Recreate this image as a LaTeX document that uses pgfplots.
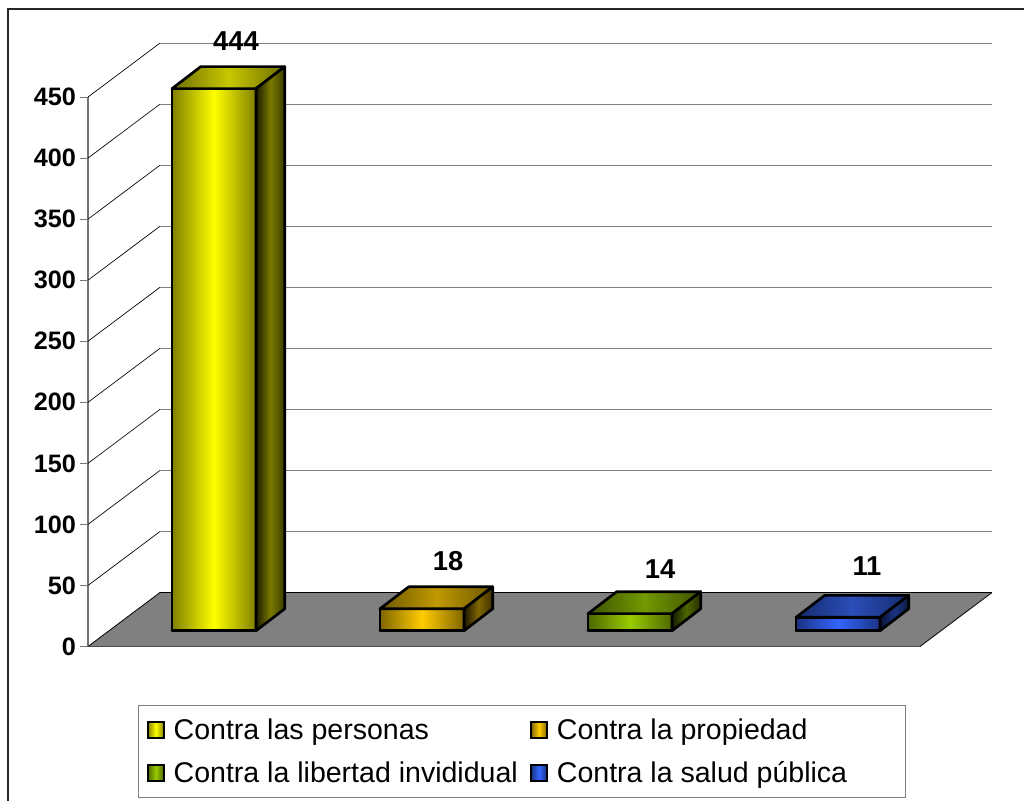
\documentclass[border=0pt]{standalone}
\usepackage{fontspec}
\setmainfont{Liberation Sans}
\usepackage{pgfplots}
\usepackage{pgfplotstable}
\pgfplotsset{compat=1.18}

% yellow
\definecolor{yF}{HTML}{FFFF00}\definecolor{yE}{HTML}{808000}
\definecolor{yT}{HTML}{C8C800}\definecolor{yTE}{HTML}{6E6E00}
\definecolor{yS}{HTML}{7A7A00}\definecolor{ySL}{HTML}{1C1C00}\definecolor{ySR}{HTML}{3C3C00}
% orange
\definecolor{oF}{HTML}{FFCC00}\definecolor{oE}{HTML}{806600}
\definecolor{oT}{HTML}{C09900}\definecolor{oTE}{HTML}{6E5800}
\definecolor{oS}{HTML}{806600}\definecolor{oSL}{HTML}{1C1600}\definecolor{oSR}{HTML}{3C3000}
% green
\definecolor{gF}{HTML}{99CC00}\definecolor{gE}{HTML}{4D6600}
\definecolor{gT}{HTML}{739900}\definecolor{gTE}{HTML}{3D5200}
\definecolor{gS}{HTML}{4D6600}\definecolor{gSL}{HTML}{141A00}\definecolor{gSR}{HTML}{242E00}
% blue
\definecolor{bF}{HTML}{3366FF}\definecolor{bE}{HTML}{1A3380}
\definecolor{bT}{HTML}{2B4DB8}\definecolor{bTE}{HTML}{152C6E}
\definecolor{bS}{HTML}{1A3380}\definecolor{bSL}{HTML}{0A1433}\definecolor{bSR}{HTML}{0D1A40}

% faces of a box: x from category, h = share of the value, d = depth in y units
\pgfplotstableread{
x h d
-0.096 0 0
0.3077 0 0
0.3077 1 0
-0.096 1 0
-0.096 0 0
}\cubefront
\pgfplotstableread{
x h d
-0.096 1 0
0.3077 1 0
0.4457 1 18
0.0420 1 18
-0.096 1 0
}\cubetop
\pgfplotstableread{
x h d
0.3077 0 0
0.4457 0 18
0.4457 1 18
0.3077 1 0
0.3077 0 0
}\cubeside
% wall grid lines, shifted to each tick
\pgfplotstableread{
x y
-0.5 0
-0.1538 44.2
}\walldiag
\pgfplotstableread{
x y
-0.1538 44.2
3.8462 44.2
}\wallback
\pgfplotstableread{
x y
-0.5 0
3.5 0
3.8462 44.2
-0.1538 44.2
-0.5 0
}\floorarea

\newcommand{\cube}[5]{%
  \addplot[forget plot,draw=black,line width=2pt,line join=round,line cap=round,
    left color=#3E,right color=#3E,middle color=#3F]
    table[x expr=#1+\thisrow{x},y expr=12.9+#2*\thisrow{h}+\thisrow{d}] {\cubefront};
  \addplot[forget plot,draw=black,line width=2pt,line join=round,line cap=round,
    left color=#3TE,right color=#3TE,middle color=#3T]
    table[x expr=#1+\thisrow{x},y expr=12.9+#2*\thisrow{h}+\thisrow{d}] {\cubetop};
  \addplot[forget plot,draw=black,line width=2pt,line join=round,line cap=round,
    left color=#3SL,right color=#3SR,middle color=#3S]
    table[x expr=#1+\thisrow{x},y expr=12.9+#2*\thisrow{h}+\thisrow{d}] {\cubeside};
  \node[inner sep=0pt,font=\bfseries\fontsize{20.5}{22}\selectfont,xshift=#4,yshift=#5]
    at (axis cs:#1+0.1058,12.9+#2) {#2};
}
\newcommand{\swatch}[1]{%
  \addlegendimage{legend image code/.code={%
    \draw[black,line width=1.6pt,left color=#1E,right color=#1E,middle color=#1F]
      (0pt,-6pt) rectangle (12.2pt,6pt);}}%
}

\begin{document}
\begin{tikzpicture}
  \path[use as bounding box,fill=white] (-66pt,-115.875pt) rectangle (702pt,484.875pt);
  \draw[line width=0.9pt,black!85] (-60pt,-115.875pt) -- (-60pt,478.125pt) -- (702pt,478.125pt);
  \begin{axis}[
      at={(0,0)},anchor=south west,
      scale only axis,
      width=624pt,height=412.1pt,
      xmin=-0.5,xmax=3.5,ymin=0,ymax=450,
      clip=false,
      axis x line=none,
      axis y line=left,
      y axis line style={-,draw=gray!90!black,line width=0.8pt},
      ytick={0,50,100,150,200,250,300,350,400,450},
      tick align=outside,
      major tick length=6pt,
      ytick style={draw=gray!90!black,line width=0.8pt},
      tick label style={/pgf/number format/assume math mode=true},
      yticklabel style={font=\bfseries\fontsize{18.9}{20}\selectfont,xshift=0.5pt},
      legend columns=2,
      legend cell align=left,
      legend style={
        at={(0.0601,-0.1065)},anchor=north west,
        draw=gray,line width=0.9pt,
        font=\fontsize{21.4}{24}\selectfont,
        inner xsep=6pt,inner ysep=7.7pt,
        /tikz/every even column/.append style={column sep=7pt},
        /tikz/every odd column/.append style={column sep=4.5pt},
        /tikz/row sep=11.2pt,
      },
    ]
    % wall lines
    \pgfplotsinvokeforeach{50,100,150,200,250,300,350,400,450}{
      \addplot[forget plot,draw=black,line width=0.5pt] table[x=x,y expr=#1+\thisrow{y}] {\walldiag};
      \addplot[forget plot,draw=gray,line width=0.8pt] table[x=x,y expr=#1+\thisrow{y}] {\wallback};
    }
    % floor
    \addplot[forget plot,fill=gray,draw=none] table {\floorarea};
    \addplot[forget plot,draw=black,line width=1pt] coordinates {(-0.1538,44.2) (3.8462,44.2)};
    \addplot[forget plot,draw=black,line width=0.6pt] coordinates {(-0.5,0) (-0.1538,44.2)};
    \addplot[forget plot,draw=black,line width=0.6pt] coordinates {(3.5,0) (3.8462,44.2)};
    \addplot[forget plot,draw=black!70,line width=1pt] coordinates {(-0.5,0) (3.5,0)};

    \cube{0}{444}{y}{16.5pt}{35.7pt}
    \cube{1}{18}{o}{19.5pt}{36pt}
    \cube{2}{14}{g}{22.5pt}{33.7pt}
    \cube{3}{11}{b}{21.7pt}{38.2pt}

    \swatch{y}\addlegendentry{Contra las personas}
    \swatch{o}\addlegendentry{Contra la propiedad}
    \swatch{g}\addlegendentry{Contra la libertad invididual}
    \swatch{b}\addlegendentry{Contra la salud pública\hspace*{36pt}}
  \end{axis}
\end{tikzpicture}
\end{document}
